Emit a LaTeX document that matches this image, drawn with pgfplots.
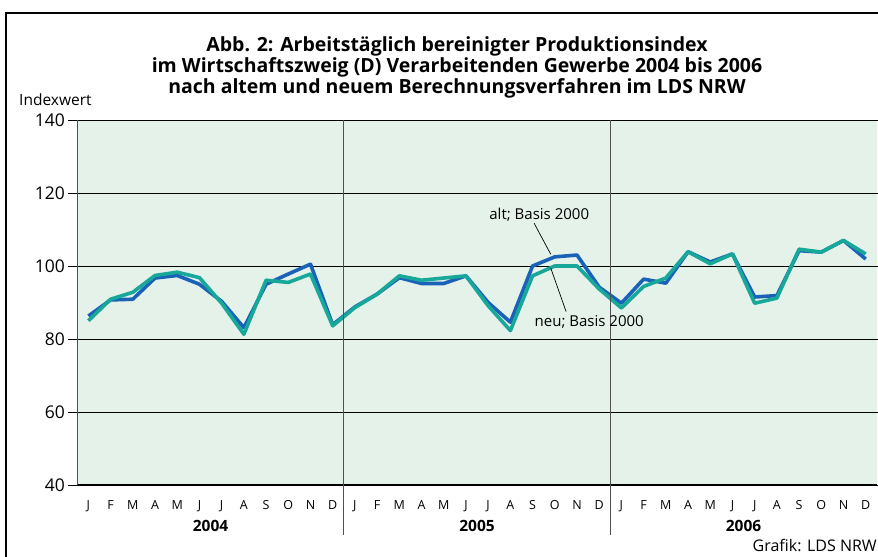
\documentclass[border=0pt]{standalone}
\usepackage{pgfplots}
\pgfplotsset{compat=1.18}
\usepackage{pgfplotstable}
\usepackage{fontspec}
\setmainfont{Open Sans}
\definecolor{altblue}{HTML}{1A62B8}
\definecolor{neuteal}{HTML}{17A899}
\definecolor{bgc}{HTML}{E4F2EA}
\definecolor{sepc}{HTML}{505050}
\pgfplotstableread{
m alt neu
0 86.3 85.0
1 90.7 90.9
2 90.9 92.8
3 96.7 97.4
4 97.4 98.3
5 95.0 96.8
6 90.3 89.8
7 83.1 81.3
8 95.0 96.1
9 97.8 95.5
10 100.5 97.8
11 83.9 83.6
12 88.8 88.6
13 92.3 92.3
14 96.8 97.3
15 95.2 96.1
16 95.2 96.7
17 97.3 97.3
18 90.0 89.1
19 84.6 82.3
20 100.0 97.3
21 102.5 100.0
22 103.0 100.0
23 94.2 93.7
24 89.8 88.5
25 96.4 94.4
26 95.3 96.7
27 103.9 103.9
28 101.1 100.6
29 103.3 103.3
30 91.5 89.8
31 91.9 91.2
32 104.2 104.6
33 103.8 103.8
34 107.0 107.0
35 101.9 103.3
}\datatable
\begin{document}
\begin{tikzpicture}[x=1bp,y=1bp]
\useasboundingbox (0,0) rectangle (878,557);
\draw[line width=2.2bp] (6,544) rectangle (900,-20);
\node[font=\fontsize{19.5bp}{20.7bp}\selectfont\bfseries, align=center, inner sep=0] at (457,489.5)
  {Abb. 2: Arbeitstäglich bereinigter Produktionsindex\\
   im Wirtschaftszweig (D) Verarbeitenden Gewerbe 2004 bis 2006\\
   nach altem und neuem Berechnungsverfahren im LDS NRW};
\node[font=\fontsize{15.5bp}{17bp}\selectfont, anchor=west, inner sep=0] at (19,457) {Indexwert};
\node[font=\fontsize{16bp}{18bp}\selectfont, anchor=east, inner sep=0] at (877,12) {Grafik: LDS NRW};
\begin{axis}[
  at={(77.3bp,72bp)}, anchor=south west,
  scale only axis, width=799.5bp, height=365bp,
  xmin=-0.5, xmax=35.5, ymin=40, ymax=140,
  axis line style={draw=none},
  axis background/.style={fill=bgc},
  ytick={40,60,...,140},
  ymajorgrids,
  grid style={black, line width=0.8bp},
  y tick style={black, line width=0.8bp},
  tick align=outside,
  major tick length=9bp,
  xtick={0,...,35},
  xticklabels={J,F,M,A,M,J,J,A,S,O,N,D,J,F,M,A,M,J,J,A,S,O,N,D,J,F,M,A,M,J,J,A,S,O,N,D},
  x tick style={draw=none},
  xticklabel style={font=\fontsize{12.5bp}{14bp}\selectfont, yshift=-3bp},
  yticklabel style={font=\fontsize{17.5bp}{19bp}\selectfont},
  /pgf/number format/assume math mode=true,
  clip=false,
]
\draw[black, line width=1.5bp] (axis cs:-0.5,40) -- (axis cs:35.5,40);
\draw[sepc, line width=1bp] (axis cs:-0.5,140) -- (axis cs:-0.5,40);
\addplot[altblue, line width=3.6bp, line join=round] table[x=m, y=alt] {\datatable};
\addplot[neuteal, line width=3.6bp, line join=round] table[x=m, y=neu] {\datatable};
\draw[sepc, line width=1.2bp] (axis cs:11.5,140) -- (axis cs:11.5,26.3);
\draw[sepc, line width=1.2bp] (axis cs:23.5,140) -- (axis cs:23.5,26.3);
\draw[black, line width=0.7bp] (axis cs:20.07,111.7) -- (axis cs:20.82,103.2);
\draw[black, line width=0.7bp] (axis cs:20.82,99.4) -- (axis cs:21.51,87.5);
\node[font=\fontsize{15bp}{17bp}\selectfont, inner sep=0] at (axis cs:20.3,114.0) {alt; Basis 2000};
\node[font=\fontsize{15bp}{17bp}\selectfont, inner sep=0] at (axis cs:22.55,84.7) {neu; Basis 2000};
\node[font=\fontsize{15.5bp}{17bp}\selectfont\bfseries, inner sep=0] at (axis cs:5.5,40) [yshift=-41bp] {2004};
\node[font=\fontsize{15.5bp}{17bp}\selectfont\bfseries, inner sep=0] at (axis cs:17.5,40) [yshift=-41bp] {2005};
\node[font=\fontsize{15.5bp}{17bp}\selectfont\bfseries, inner sep=0] at (axis cs:29.5,40) [yshift=-41bp] {2006};
\end{axis}
\end{tikzpicture}
\end{document}
